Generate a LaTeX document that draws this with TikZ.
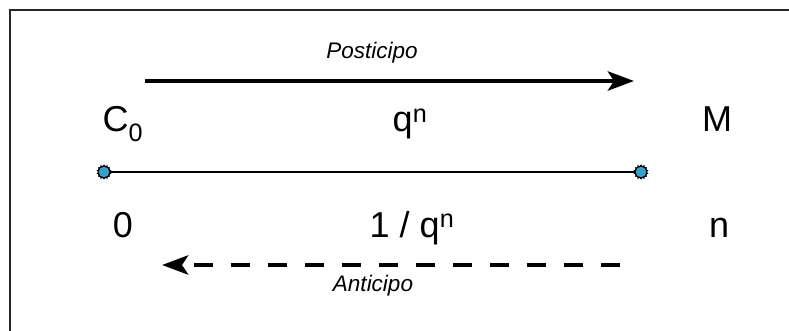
\documentclass[tikz,border=0pt]{standalone}
\usepackage{fontspec}
\setmainfont{Liberation Sans}
\usetikzlibrary{arrows.meta,shapes.geometric}
\definecolor{dotblue}{RGB}{54,160,200}
\tikzset{
  bigtext/.style={anchor=base, inner sep=0pt, font=\fontsize{36}{40}\selectfont},
  smalltext/.style={anchor=base, inner sep=0pt, font=\fontsize{22.5}{26}\selectfont\itshape},
  tiparrow/.style={line width=4.8pt, -{Stealth[length=26pt, width=19pt, inset=6pt]}},
  spot/.style={star, star points=14, star point ratio=1.3, minimum size=15pt, inner sep=0pt, fill=black},
  spotcore/.style={circle, minimum size=10.5pt, inner sep=0pt, fill=dotblue}
}
\begin{document}
\begin{tikzpicture}[x=1pt,y=-1pt]
\useasboundingbox (0,0) rectangle (789,331);
% frame
\draw[line width=2pt, black!85] (10,331) -- (10,10) -- (789,10);
% labels
\node[smalltext] (post) at (372,59) {Posticipo};
\node[smalltext] (anti) at (373,291) {Anticipo};
\node[bigtext] (c0) at (123,132) {C\textsubscript{0}};
\node[bigtext] (qn) at (410,132) {q\textsuperscript{n}};
\node[bigtext] (mm) at (717,132) {M};
\node[bigtext] (zero) at (123,237) {0};
\node[bigtext] (iqn) at (412,237) {1 / q\textsuperscript{n}};
\node[bigtext] (nn) at (719,237) {n};
% arrows
\coordinate (ps) at (145,81);
\coordinate (pe) at (634,81);
\draw[tiparrow] (ps) -- (pe);
\coordinate (as) at (620,265);
\coordinate (ae) at (162,265);
\draw[tiparrow, dash pattern=on 19pt off 18pt] (as) -- (ae);
% time line
\node[spot] (d0) at (104,172) {};
\node[spot] (d1) at (641,172) {};
\draw[line width=1.3pt] (d0.center) -- (d1.center);
\node[spot] at (104,172) {};
\node[spot] at (641,172) {};
\node[spotcore] at (104,172) {};
\node[spotcore] at (641,172) {};
\end{tikzpicture}
\end{document}
